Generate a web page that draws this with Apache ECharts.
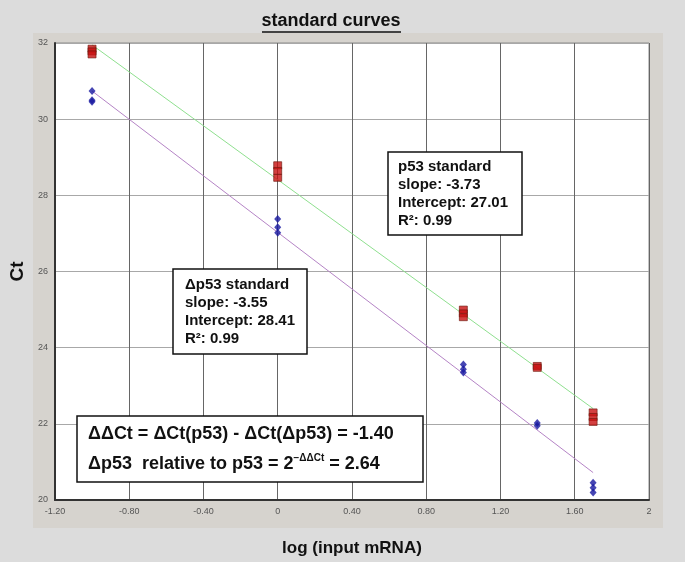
<!DOCTYPE html>
<html>
<head>
<meta charset="utf-8">
<script src="https://cdn.jsdelivr.net/npm/echarts@6/dist/echarts.min.js"></script>
<style>
  html, body { margin: 0; padding: 0; background: #dcdcdc; }
  #chart { width: 685px; height: 562px; }
</style>
</head>
<body>
<div id="chart"></div>
<script>
// tick labels
const xTickLabels = ["-1.20", "-0.80", "-0.40", "0", "0.40", "0.80", "1.20", "1.60", "2"];
const yTickLabels = ["20", "22", "24", "26", "28", "30", "32"];

// p53 replicates (red squares), x = log(input mRNA)
const p53Points = [
    [-1, 31.85], [-1, 31.78], [-1, 31.7],
    [0, 28.79], [0, 28.64], [0, 28.46],
    [1, 25.0], [1, 24.9], [1, 24.8],
    [1.398, 23.52], [1.398, 23.47],
    [1.699, 22.3], [1.699, 22.18], [1.699, 22.05]
];
// Δp53 replicates (blue diamonds)
const dp53Points = [
    [-1, 30.74], [-1, 30.5], [-1, 30.46],
    [0, 27.38], [0, 27.16], [0, 27.02],
    [1, 23.56], [1, 23.43], [1, 23.35],
    [1.398, 22.02], [1.398, 21.95],
    [1.699, 20.45], [1.699, 20.32], [1.699, 20.2]
];
// fitted lines (end points)
const greenFit = [[-1, 31.95], [1.699, 22.4]];
const purpleFit = [[-1, 30.74], [1.699, 20.72]];

const chart = echarts.init(document.getElementById("chart"));

const boxText = { fontFamily: "Liberation Sans, Arial", fontWeight: "bold", fontSize: 15, fill: "#111" };

const options = {
    backgroundColor: "#dcdcdc",
    animation: false,
    grid: {
        show: true,
        left: 53,
        right: 36,
        top: 43,
        bottom: 55,
        backgroundColor: "#fff",
        borderColor: "#8a8a8a",
        borderWidth: 1
    },
    xAxis: {
        type: "value",
        min: -1.2,
        max: 2,
        interval: 0.4,
        axisLine: { show: true, onZero: false, lineStyle: { color: "#333", width: 2 } },
        axisTick: { show: false },
        axisLabel: {
            color: "#555",
            fontSize: 9,
            fontFamily: "Liberation Sans, Arial",
            margin: 7,
            formatter: function (v) {
                return xTickLabels[Math.round((v + 1.2) / 0.4)];
            }
        },
        splitLine: { show: true, lineStyle: { color: "#666", width: 1 } },
        name: "log (input mRNA)",
        nameLocation: "middle",
        nameGap: 40,
        nameTextStyle: { fontFamily: "Liberation Sans, Arial", fontWeight: "bold", fontSize: 17, color: "#111" }
    },
    yAxis: {
        type: "value",
        min: 20,
        max: 32,
        interval: 2,
        axisLine: { show: true, onZero: false, lineStyle: { color: "#333", width: 2 } },
        axisTick: { show: false },
        axisLabel: {
            color: "#555",
            fontSize: 9,
            fontFamily: "Liberation Sans, Arial",
            margin: 7,
            formatter: function (v) {
                return yTickLabels[Math.round((v - 20) / 2)];
            }
        },
        splitLine: { show: true, lineStyle: { color: "#a8a8a8", width: 1 } },
        name: "Ct",
        nameLocation: "middle",
        nameGap: 27,
        nameRotate: 90,
        nameTextStyle: { fontFamily: "Liberation Sans, Arial", fontWeight: "bold", fontSize: 19, color: "#111" }
    },
    series: [
        {
            type: "line",
            data: greenFit,
            symbol: "none",
            lineStyle: { color: "#8fe08f", width: 1 },
            z: 2
        },
        {
            type: "line",
            data: purpleFit,
            symbol: "none",
            lineStyle: { color: "#b584c6", width: 1 },
            z: 2
        },
        {
            type: "scatter",
            data: p53Points,
            symbol: "rect",
            symbolSize: [8, 7],
            itemStyle: { color: "#c81010", borderColor: "#6e1a10", borderWidth: 0.8 },
            z: 3
        },
        {
            type: "scatter",
            data: dp53Points,
            symbol: "diamond",
            symbolSize: [7, 8],
            itemStyle: { color: "#1818a0" },
            z: 3
        }
    ],
    graphic: [
        {
            type: "rect",
            z: -10,
            shape: { x: 33, y: 33, width: 630, height: 495 },
            style: { fill: "#d6d3ce" }
        },
        {
            type: "text",
            x: 331,
            y: 12,
            zlevel: 1,
            style: {
                text: "standard curves",
                font: "bold 18px 'Liberation Sans', Arial",
                fill: "#111",
                align: "center",
                verticalAlign: "top"
            }
        },
        {
            type: "line",
            zlevel: 1,
            shape: { x1: 262, y1: 32, x2: 401, y2: 32 },
            style: { stroke: "#111", lineWidth: 1.5 }
        },
        {
            type: "rect",
            zlevel: 1,
            shape: { x: 388, y: 152, width: 134, height: 83 },
            style: { fill: "#fff", stroke: "#111", lineWidth: 1.5 }
        },
        {
            type: "text",
            zlevel: 1,
            z: 10,
            x: 398,
            y: 158,
            style: Object.assign({}, boxText, {
                text: "p53 standard\nslope: -3.73\nIntercept: 27.01\nR²: 0.99",
                lineHeight: 18
            })
        },
        {
            type: "rect",
            zlevel: 1,
            shape: { x: 173, y: 269, width: 134, height: 85 },
            style: { fill: "#fff", stroke: "#111", lineWidth: 1.5 }
        },
        {
            type: "text",
            zlevel: 1,
            z: 10,
            x: 185,
            y: 276,
            style: Object.assign({}, boxText, {
                text: "Δp53 standard\nslope: -3.55\nIntercept: 28.41\nR²: 0.99",
                lineHeight: 18
            })
        },
        {
            type: "rect",
            zlevel: 1,
            shape: { x: 77, y: 416, width: 346, height: 66 },
            style: { fill: "#fff", stroke: "#111", lineWidth: 1.5 }
        },
        {
            type: "text",
            zlevel: 1,
            z: 10,
            x: 88,
            y: 419,
            style: {
                text: "{t|ΔΔCt = ΔCt(p53) - ΔCt(Δp53) = -1.40}\n{t|Δp53  relative to p53 = 2}{s|−ΔΔCt}{t| = 2.64}",
                rich: {
                    t: { fontFamily: "Liberation Sans, Arial", fontWeight: "bold", fontSize: 18, fill: "#111", lineHeight: 30 },
                    s: { fontFamily: "Liberation Sans, Arial", fontWeight: "bold", fontSize: 10, fill: "#111", padding: [0, 0, 11, 0], lineHeight: 30 }
                }
            }
        }
    ]
};

chart.setOption(options);
</script>
</body>
</html>
